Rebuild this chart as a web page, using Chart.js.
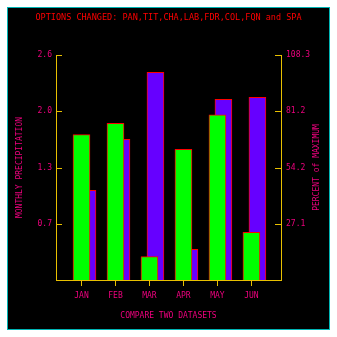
<!DOCTYPE html>
<html>
<head>
<meta charset="utf-8">
<script src="https://cdn.jsdelivr.net/npm/chart.js@4"></script>
<style>
  body { margin: 0; background: #fff; }
</style>
</head>
<body>
<canvas id="chart" width="337" height="337"></canvas>
<script>
const months = ["JAN", "FEB", "MAR", "APR", "MAY", "JUN"];
const precip = [1.68, 1.81, 0.27, 1.51, 1.91, 0.55];
const percentMax = [43.2, 67.7, 100, 14.8, 87.0, 87.9];
const leftTicks = [0.65, 1.3, 1.95, 2.6];
const leftTickLabels = ["0.7", "1.3", "2.0", "2.6"];
const rightTicks = [27.075, 54.15, 81.225, 108.3];
const rightTickLabels = ["27.1", "54.2", "81.2", "108.3"];

const PINK = "#f0007f";
const YELLOW = "#e8c000";
const FONT = "DejaVu Sans Mono";

// frame, titles and inward tick marks
const decor = {
    id: "decor",
    beforeDraw(chart) {
        const ctx = chart.ctx;
        ctx.save();
        ctx.fillStyle = "#fff";
        ctx.fillRect(0, 0, chart.width, chart.height);
        ctx.fillStyle = "#000";
        ctx.fillRect(7, 7, 323, 323);
        ctx.strokeStyle = "#00b4b4";
        ctx.lineWidth = 1;
        ctx.strokeRect(7.5, 7.5, 322, 322);
        ctx.restore();
    },
    afterDraw(chart) {
        const ctx = chart.ctx;
        const area = chart.chartArea;
        const y = chart.scales.y, y1 = chart.scales.y1;
        ctx.save();
        ctx.strokeStyle = YELLOW;
        ctx.lineWidth = 1;
        ctx.beginPath();
        leftTicks.forEach((v) => {
            const p = Math.round(y.getPixelForValue(v)) + 0.5;
            ctx.moveTo(area.left, p);
            ctx.lineTo(area.left + 6, p);
        });
        rightTicks.forEach((v) => {
            const p = Math.round(y1.getPixelForValue(v)) + 0.5;
            ctx.moveTo(area.right, p);
            ctx.lineTo(area.right - 6, p);
        });
        ctx.stroke();

        ctx.textAlign = "center";
        ctx.textBaseline = "middle";
        ctx.fillStyle = "#ff0000";
        ctx.font = "8.5px '" + FONT + "'";
        ctx.fillText("OPTIONS CHANGED: PAN,TIT,CHA,LAB,FDR,COL,FQN and SPA", 168.5, 17.5);

        ctx.fillStyle = PINK;
        ctx.font = "8px '" + FONT + "'";
        ctx.fillText("COMPARE TWO DATASETS", 168.5, 316);

        ctx.translate(20, 167.5);
        ctx.rotate(-Math.PI / 2);
        ctx.fillText("MONTHLY PRECIPITATION", 0, 0);
        ctx.rotate(Math.PI / 2);
        ctx.translate(297, 0);
        ctx.rotate(-Math.PI / 2);
        ctx.fillText("PERCENT of MAXIMUM", 0, 0);
        ctx.restore();
    }
};

const tickFont = { family: FONT, size: 8 };

new Chart(document.getElementById("chart"), {
    type: "bar",
    data: {
        datasets: [
            {
                label: "Precipitation",
                data: precip.map((v, i) => ({ x: i, y: v })),
                xAxisID: "x",
                yAxisID: "y",
                backgroundColor: "#00ff00",
                borderColor: "#ff0000",
                borderWidth: 1,
                barThickness: 17,
                grouped: false,
            },
            {
                label: "Percent of maximum",
                data: percentMax.map((v, i) => ({ x: i, y: v })),
                xAxisID: "x2",
                yAxisID: "y1",
                backgroundColor: "#6600ff",
                borderColor: "#ff0000",
                borderWidth: 1,
                barThickness: 17,
                grouped: false,
            },
        ],
    },
    options: {
        responsive: false,
        animation: false,
        layout: { padding: { top: 55, left: 0, right: 0, bottom: 0 } },
        plugins: {
            legend: { display: false },
            tooltip: { enabled: false },
        },
        scales: {
            x: {
                type: "linear",
                position: "bottom",
                offset: false,
                min: -0.75,
                max: 5.87,
                afterBuildTicks: (s) => { s.ticks = months.map((m, i) => ({ value: i })); },
                afterFit: (s) => { s.height = 57; },
                ticks: {
                    color: PINK,
                    font: tickFont,
                    padding: 5,
                    maxRotation: 0,
                    autoSkip: false,
                    callback: (v) => months[v],
                },
                grid: { offset: false, drawOnChartArea: false, drawTicks: true, tickLength: 6, color: YELLOW },
                border: { color: YELLOW },
            },
            x2: {
                type: "linear",
                display: false,
                offset: false,
                min: -0.75 - 0.176,
                max: 5.87 - 0.176,
            },
            y: {
                position: "left",
                min: 0,
                max: 2.6,
                afterBuildTicks: (s) => { s.ticks = leftTicks.map((v) => ({ value: v })); },
                afterFit: (s) => { s.width = 56; },
                ticks: {
                    color: PINK,
                    font: tickFont,
                    padding: 4,
                    callback: (v, i) => leftTickLabels[i],
                },
                grid: { drawOnChartArea: false, drawTicks: false },
                border: { color: YELLOW },
            },
            y1: {
                position: "right",
                min: 0,
                max: 108.3,
                afterBuildTicks: (s) => { s.ticks = rightTicks.map((v) => ({ value: v })); },
                afterFit: (s) => { s.width = 56; },
                ticks: {
                    color: PINK,
                    font: tickFont,
                    padding: 5,
                    callback: (v, i) => rightTickLabels[i],
                },
                grid: { drawOnChartArea: false, drawTicks: false },
                border: { color: YELLOW },
            },
        },
    },
    plugins: [decor],
});
</script>
</body>
</html>
